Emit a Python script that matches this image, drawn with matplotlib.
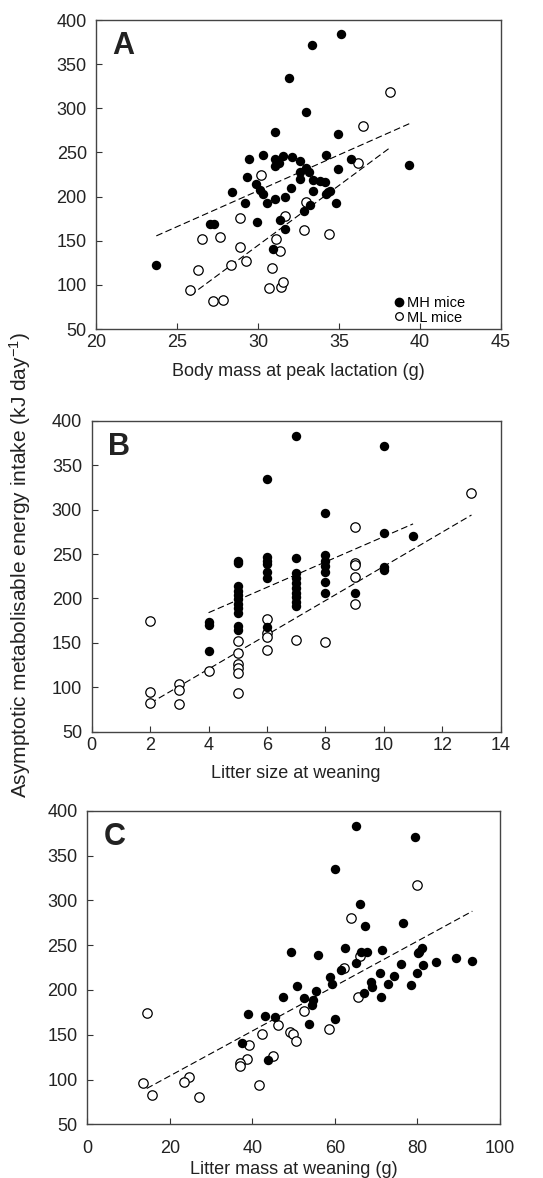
import matplotlib
matplotlib.use("Agg")
import matplotlib.pyplot as plt
from matplotlib.lines import Line2D

plt.rcParams['font.family'] = ['Liberation Sans', 'DejaVu Sans']
plt.rcParams['mathtext.fontset'] = 'custom'
plt.rcParams['mathtext.rm'] = 'Liberation Sans'
plt.rcParams['mathtext.it'] = 'Liberation Sans:italic'

# --- A: body mass at peak lactation (g) vs intake (kJ/day)
a_mh_x = [35.15, 33.31, 31.88, 32.97, 31.03, 34.91, 29.41, 30.28, 31.07, 31.54,
          32.12, 32.57, 34.22, 35.72, 34.93, 29.29, 31.07, 31.27, 32.57, 32.93,
          33.17, 32.57, 33.37, 33.84, 34.12, 29.84, 30.14, 30.30, 28.38, 29.21,
          30.55, 31.07, 31.66, 32.06, 33.40, 34.34, 34.20, 34.45, 33.23, 32.83,
          34.83, 27.03, 27.27, 29.94, 31.35, 31.64, 30.89, 23.67, 39.33]
a_mh_y = [383.8, 372.1, 334.7, 295.6, 273.6, 270.7, 242.4, 247.3, 242.8, 246.2,
          245.4, 240.8, 247.6, 242.4, 231.8, 222.7, 234.1, 238.6, 228.4, 232.2,
          228.4, 219.8, 219.0, 218.2, 216.4, 214.1, 206.9, 203.5, 205.0, 192.6,
          192.6, 197.2, 199.0, 209.6, 206.6, 205.0, 202.8, 206.6, 190.7, 183.9,
          192.6, 169.2, 169.2, 171.1, 173.8, 163.3, 140.9, 122.8, 236.0]
a_ml_x = [38.18, 36.51, 36.20, 30.20, 32.97, 31.68, 28.87, 26.52, 27.64, 31.13,
          32.85, 34.37, 28.89, 31.37, 26.28, 28.32, 29.27, 30.87, 25.76, 30.67,
          31.39, 31.56, 27.23, 27.80]
a_ml_y = [318.9, 280.1, 237.9, 225.0, 193.4, 177.5, 175.3, 151.9, 153.7, 151.9,
          161.6, 157.1, 143.2, 138.7, 116.8, 122.9, 127.4, 119.5, 94.2, 96.5,
          97.6, 103.3, 81.3, 82.5]
a_fit_mh_x = [23.7, 39.4]
a_fit_mh_y = [155.5, 283.0]
a_fit_ml_x = [25.8, 38.2]
a_fit_ml_y = [88.0, 256.0]

# --- B: litter size at weaning
b_mh_x = [4, 4, 4,
          5, 5, 5, 5, 5, 5, 5, 5, 5, 5, 5,
          6, 6, 6, 6, 6, 6, 6,
          7, 7, 7, 7, 7, 7, 7, 7, 7, 7,
          8, 8, 8, 8, 8, 8, 8,
          9, 10, 10, 10, 10, 11]
b_mh_y = [173, 170, 141,
          242.5, 239.5, 214, 208.8, 203.9, 199, 193.8, 188.9, 184, 169, 164.5,
          246.3, 242.5, 238.8, 230.1, 222.6, 167.5, 334.4,
          245.1, 229, 222.6, 217, 211.4, 206.5, 201.3, 196.4, 191.5, 383.3,
          248.9, 242.5, 236.5, 230.1, 218.1, 206.5, 296.3,
          205.8, 235.7, 232, 273.5, 372, 270.5]
b_ml_x = [2, 2, 2, 3, 3, 3, 4, 5, 5, 5, 5, 5, 5, 6, 6, 6, 6, 7, 8,
          9, 9, 9, 9, 9, 13]
b_ml_y = [175, 94.8, 82.4, 103.4, 96.6, 80.9, 118.8,
          152.1, 138.3, 126.3, 121.4, 115.8, 93.3,
          176.9, 160.8, 156.3, 142, 153.3, 151.4,
          280.7, 240.3, 237.6, 224.5, 193.4, 318.6]
b_fit_mh_x = [4, 11]
b_fit_mh_y = [184, 284]
b_fit_ml_x = [2, 13]
b_fit_ml_y = [82, 294]

# --- C: litter mass at weaning (g)
c_mh_x = [65.2, 60.0, 66.0, 67.2, 76.5, 79.3, 71.5, 81.2, 80.4, 80.1,
          84.5, 89.4, 93.3, 81.4, 75.9, 79.8, 74.2, 70.9, 72.8, 78.5,
          71.1, 49.3, 55.8, 62.5, 66.3, 67.8, 65.1, 61.5, 58.8, 59.2,
          68.7, 69.0, 67.0, 50.7, 55.5, 47.4, 52.5, 54.8, 54.5, 38.9,
          43.1, 45.5, 59.97, 53.6, 37.4, 43.7]
c_mh_y = [383.3, 334.9, 296.0, 271.9, 274.9, 371.4, 244.4, 247.4, 241.9, 240.8,
          231.1, 235.9, 232.2, 227.8, 228.9, 219.2, 215.9, 218.5, 206.3, 205.6,
          191.9, 241.9, 238.9, 247.0, 242.6, 241.9, 230.7, 222.2, 214.1, 206.7,
          209.3, 203.7, 197.0, 204.4, 198.9, 191.9, 191.5, 188.9, 183.3, 173.0,
          170.4, 169.3, 168.1, 162.2, 140.7, 122.2]
c_ml_x = [63.9, 79.8, 66.0, 62.3, 65.7, 52.5, 46.2, 58.5, 42.4, 49.1,
          49.9, 50.5, 39.1, 38.6, 36.9, 37.1, 45.1, 14.5, 24.7, 23.5,
          13.4, 41.7, 15.6, 27.1]
c_ml_y = [280.4, 317.8, 238.0, 224.8, 192.6, 177.0, 160.8, 156.7, 151.4, 153.0,
          151.1, 142.6, 138.1, 123.3, 118.5, 115.6, 126.7, 174.8, 103.0, 97.0,
          95.6, 94.4, 82.3, 80.6]
c_fit_x = [14.4, 93.3]
c_fit_y = [90.0, 288.0]

fig = plt.figure(figsize=(5.43, 11.78), dpi=100)

ax_a = fig.add_axes([0.1777, 0.7207, 0.7444, 0.2623])
ax_b = fig.add_axes([0.1689, 0.3789, 0.7532, 0.2638])
ax_c = fig.add_axes([0.1608, 0.0456, 0.7600, 0.2660])

ms = 46
dash = dict(color='black', lw=0.8, ls=(0, (6, 3)), zorder=1)


def scatter_groups(ax, mx, my, lx, ly):
    ax.scatter(lx, ly, s=ms, facecolors='white', edgecolors='black',
               linewidths=0.9, zorder=3)
    ax.scatter(mx, my, s=ms, color='black', linewidths=0, zorder=4)


def style(ax, xlim, xticks, xlabel, letter, xpad=3.5, labelpad=8):
    ax.set_xlim(*xlim)
    ax.set_xticks(xticks)
    ax.set_ylim(50, 400)
    ax.set_yticks(range(50, 401, 50))
    ax.tick_params(direction='in', length=4, width=0.8, labelsize=13,
                   color='#333333', labelcolor='#222222')
    ax.tick_params(axis='y', pad=7)
    ax.tick_params(axis='x', pad=xpad)
    for s in ax.spines.values():
        s.set_color('#444444')
        s.set_linewidth(1.0)
    ax.set_xlabel(xlabel, fontsize=13, color='#222222', labelpad=labelpad)
    ax.text(0.04, 0.965, letter, transform=ax.transAxes, fontsize=22,
            fontweight='bold', va='top', ha='left', color='#222222')


scatter_groups(ax_a, a_mh_x, a_mh_y, a_ml_x, a_ml_y)
ax_a.plot(a_fit_mh_x, a_fit_mh_y, **dash)
ax_a.plot(a_fit_ml_x, a_fit_ml_y, **dash)
style(ax_a, (20, 45), range(20, 46, 5), 'Body mass at peak lactation (g)', 'A',
      labelpad=9)

handles = [Line2D([], [], ls='none', marker='o', ms=6, color='black', label='MH mice'),
           Line2D([], [], ls='none', marker='o', ms=5.5, mfc='white', mec='black',
                  mew=0.9, label='ML mice')]
ax_a.legend(handles=handles, loc='lower right', frameon=False, fontsize=10.5,
            handletextpad=0.05, handlelength=1.0, labelspacing=0.05,
            borderaxespad=0.0, borderpad=0.2, bbox_to_anchor=(0.92, 0.005))

scatter_groups(ax_b, b_mh_x, b_mh_y, b_ml_x, b_ml_y)
ax_b.plot(b_fit_mh_x, b_fit_mh_y, **dash)
ax_b.plot(b_fit_ml_x, b_fit_ml_y, **dash)
style(ax_b, (0, 14), range(0, 15, 2), 'Litter size at weaning', 'B')

scatter_groups(ax_c, c_mh_x, c_mh_y, c_ml_x, c_ml_y)
ax_c.plot(c_fit_x, c_fit_y, **dash)
style(ax_c, (0, 100), range(0, 101, 20), 'Litter mass at weaning (g)', 'C',
      xpad=11, labelpad=3)

fig.text(0.037, 0.5204, 'Asymptotic metabolisable energy intake (kJ day$^{-1}$)',
         rotation=90, va='center', ha='center', fontsize=15, color='#222222')

fig.savefig('out.png', dpi=100, facecolor='white')
